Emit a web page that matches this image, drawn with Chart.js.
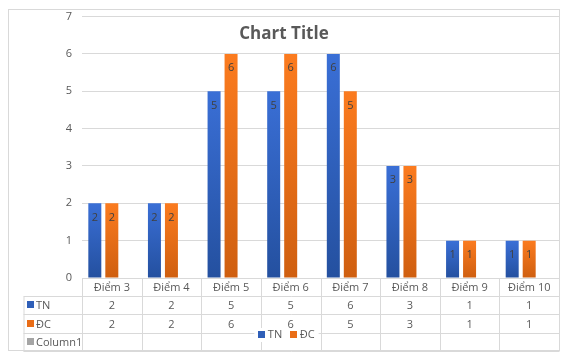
<!DOCTYPE html>
<html>
<head>
<meta charset="utf-8">
<script src="https://cdn.jsdelivr.net/npm/chart.js@4.4.0/dist/chart.umd.min.js"></script>
<style>
html,body{margin:0;padding:0;background:#ffffff;}
canvas{display:block;}
</style>
</head>
<body>
<canvas id="c" width="566" height="356"></canvas>
<script>
// ---- data ----
const categories = ['Điểm 3', 'Điểm 4', 'Điểm 5', 'Điểm 6', 'Điểm 7', 'Điểm 8', 'Điểm 9', 'Điểm 10'];
const tnValues = [2, 2, 5, 5, 6, 3, 1, 1];
const dcValues = [2, 2, 6, 6, 5, 3, 1, 1];
const column1Values = [null, null, null, null, null, null, null, null];
const seriesNames = ['TN', 'ĐC', 'Column1'];
const yAxisMin = 0;
const yAxisMax = 7;
const chartTitle = 'Chart Title';

const FONT = "'Open Sans', 'DejaVu Sans', sans-serif";
const TEXT = '#595959';
const LINE = '#d9d9d9';
const seriesColors = [
  { top: '#3a6fd6', bottom: '#24509f', flat: '#2f5fb8' },
  { top: '#fb7b1f', bottom: '#cf5f10', flat: '#e96d17' },
  { top: '#a5a5a5', bottom: '#a5a5a5', flat: '#a5a5a5' }
];

function gradientFor(i) {
  return (ctx) => {
    const c = seriesColors[i];
    const chart = ctx.chart;
    if (!chart.chartArea || ctx.type !== 'data' || ctx.raw == null) return c.flat;
    const ys = chart.scales.y;
    const y0 = ys.getPixelForValue(ctx.raw);
    const y1 = ys.getPixelForValue(0);
    if (!isFinite(y0) || !isFinite(y1) || y0 === y1) return c.flat;
    const g = chart.ctx.createLinearGradient(0, y0, 0, y1);
    g.addColorStop(0, c.top);
    g.addColorStop(1, c.bottom);
    return g;
  };
}

const seriesValues = [tnValues, dcValues, column1Values];

const excelPlugin = {
  id: 'excelLook',
  afterDatasetsDraw(chart) {
    const ctx = chart.ctx;
    ctx.save();
    ctx.font = '11px ' + FONT;
    ctx.fillStyle = '#404040';
    ctx.textAlign = 'center';
    ctx.textBaseline = 'alphabetic';
    [0, 1].forEach(di => {
      const meta = chart.getDatasetMeta(di);
      meta.data.forEach((el, i) => {
        const v = seriesValues[di][i];
        if (v == null) return;
        ctx.fillText(String(v), el.x, el.y + 17.5);
      });
    });
    ctx.restore();
  },
  afterDraw(chart) {
    const ctx = chart.ctx;
    const area = chart.chartArea;
    const xs = chart.scales.x;
    const n = categories.length;
    const cw = (area.right - area.left) / n;
    const top = area.bottom;
    const rows = [top, top + 18, top + 36.3, top + 54.7, top + 72.7];
    const leftCol = 23.5;
    ctx.save();
    // outer border
    ctx.strokeStyle = LINE;
    ctx.lineWidth = 1;
    ctx.strokeRect(8.5, 9.5, 551, 341);

    // table lines
    ctx.beginPath();
    ctx.moveTo(area.left, Math.round(rows[0]) + 0.5);
    ctx.lineTo(area.right, Math.round(rows[0]) + 0.5);
    for (let r = 1; r < rows.length; r++) {
      const y = Math.round(rows[r]) + 0.5;
      ctx.moveTo(leftCol, y);
      ctx.lineTo(area.right, y);
    }
    ctx.moveTo(leftCol + 0.5, Math.round(rows[1]) + 0.5);
    ctx.lineTo(leftCol + 0.5, Math.round(rows[4]) + 0.5);
    for (let i = 0; i <= n; i++) {
      const x = Math.round(i < n ? xs.getPixelForValue(i) - cw / 2 : xs.getPixelForValue(n - 1) + cw / 2) + 0.5;
      ctx.moveTo(x, Math.round(rows[0]) + 0.5);
      ctx.lineTo(x, Math.round(rows[4]) + 0.5);
    }
    ctx.stroke();

    // row headers and values
    ctx.font = '11px ' + FONT;
    ctx.textBaseline = 'alphabetic';
    for (let s = 0; s < 3; s++) {
      const yc = (rows[s + 1] + rows[s + 2]) / 2;
      ctx.fillStyle = seriesColors[s].flat;
      ctx.fillRect(27, Math.round(yc) - 4, 7, 7);
      ctx.fillStyle = TEXT;
      ctx.textAlign = 'left';
      ctx.fillText(seriesNames[s], 36, yc + 4);
      ctx.textAlign = 'center';
      seriesValues[s].forEach((v, i) => {
        if (v == null) return;
        ctx.fillText(String(v), xs.getPixelForValue(i), yc + 4);
      });
    }

    // title
    ctx.font = 'bold 17px ' + FONT;
    ctx.fillStyle = TEXT;
    ctx.textAlign = 'center';
    ctx.fillText(chartTitle, 284, 39);

    // legend (overlapping table, as in Excel)
    ctx.font = '11px ' + FONT;
    const items = [0, 1].map(i => ({ i, w: ctx.measureText(seriesNames[i]).width }));
    const mark = 7, gap1 = 2.5, gap2 = 8;
    let total = 0;
    items.forEach((it, k) => { total += mark + gap1 + it.w + (k < items.length - 1 ? gap2 : 0); });
    let lx = 286.5 - total / 2;
    const ly = 334;
    ctx.fillStyle = '#ffffff';
    ctx.fillRect(lx - 4, ly - 6, total + 8, 14);
    items.forEach((it) => {
      ctx.fillStyle = seriesColors[it.i].flat;
      ctx.fillRect(Math.round(lx), ly - 3, mark, mark);
      ctx.fillStyle = TEXT;
      ctx.textAlign = 'left';
      ctx.fillText(seriesNames[it.i], lx + mark + gap1, ly + 4);
      lx += mark + gap1 + it.w + gap2;
    });
    ctx.restore();
  }
};

new Chart(document.getElementById('c'), {
  type: 'bar',
  data: {
    labels: categories,
    datasets: seriesNames.map((name, i) => ({
      label: name,
      data: seriesValues[i],
      backgroundColor: gradientFor(i),
      borderWidth: 0,
      categoryPercentage: 0.855,
      barPercentage: 0.765
    }))
  },
  options: {
    responsive: false,
    animation: false,
    layout: { padding: { left: 0, right: 7, top: 16, bottom: 58 } },
    plugins: {
      legend: { display: false },
      title: { display: false },
      tooltip: { enabled: false }
    },
    scales: {
      x: {
        grid: { display: false, drawTicks: false },
        border: { display: false },
        ticks: {
          color: TEXT,
          font: { family: FONT, size: 11 },
          padding: 3,
          maxRotation: 0,
          autoSkip: false
        },
        afterFit(s) { s.height = 20; }
      },
      y: {
        min: yAxisMin,
        max: yAxisMax,
        ticks: {
          stepSize: 1,
          color: TEXT,
          font: { family: FONT, size: 11 },
          padding: 10
        },
        grid: { color: LINE, drawTicks: false },
        border: { display: false },
        afterFit(s) { s.width = 82; }
      }
    }
  },
  plugins: [excelPlugin]
});
</script>
</body>
</html>
